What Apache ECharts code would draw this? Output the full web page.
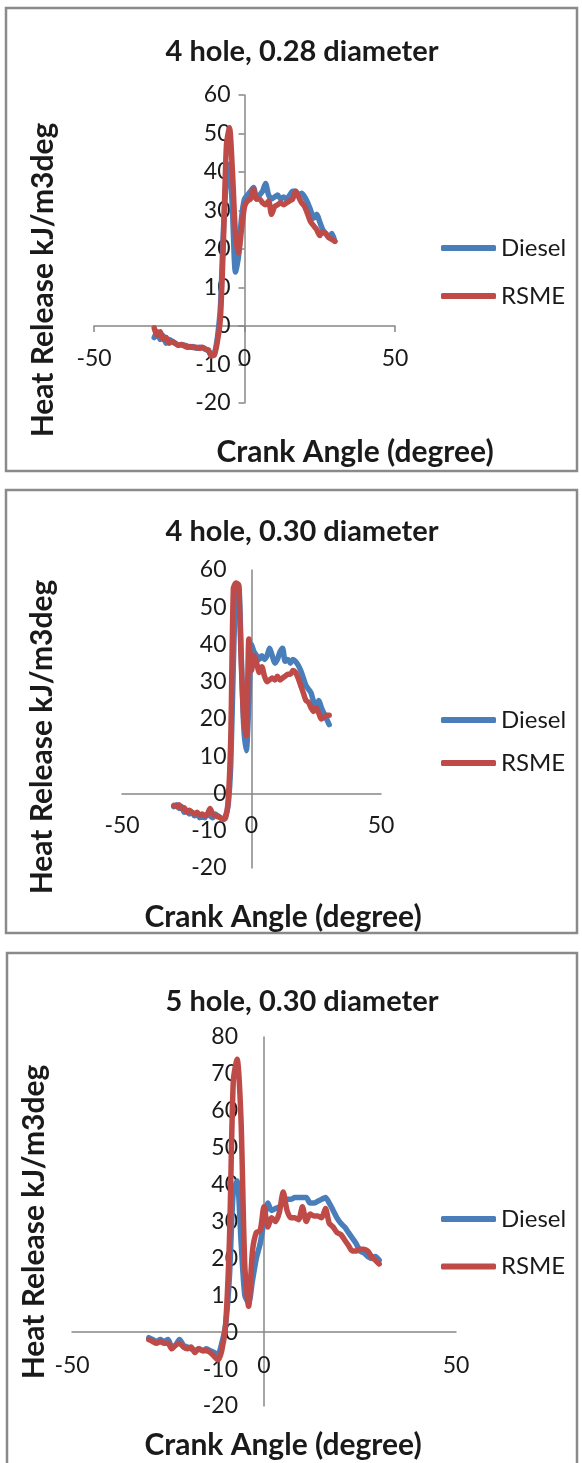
<!DOCTYPE html>
<html><head><meta charset="utf-8">
<script src="https://cdn.jsdelivr.net/npm/echarts@6/dist/echarts.min.js"></script>
<style>html,body{margin:0;padding:0;background:#fff}#c{width:582px;height:1463px}</style>
</head><body><div id="c"></div>
<script>
// Crank angle (degree)
const crankAngle = [-30,-29,-28,-27,-26,-25,-24,-23,-22,-21,-20,-19,-18,-17,-16,-15,-14,-13,-12,-11,-10,-9,-8,-7,-6,-5,-4,-3,-2,-1,0,1,2,3,4,5,6,7,8,9,10,11,12,13,14,15,16,17,18,19,20,21,22,23,24,25,26,27,28,29,30];

// Panel 1: 4 hole, 0.28 diameter
const diesel1 = [-3,-1.5,-3.5,-2.5,-4.5,-3.5,-4,-4.5,-5,-4.8,-5,-5.2,-5.5,-5.3,-5.8,-5.5,-5.6,-6,-6.5,-7.5,-7,-3,5,25,38,42,30,14,18,28,33,34,35,36,33,34,35,37,34,33,33.5,34,33,33.5,33,34,35,35,34,34.5,33.5,32,30,28,29,27,25,24,23,24,22];
const rsme1   = [-0.5,-2.5,-1.5,-3.5,-3,-4.5,-4,-4.5,-5,-4.8,-5.2,-5.5,-5.3,-5.6,-5.5,-5.8,-5.5,-6,-6.2,-7.8,-7.5,-4,2,22,47,51.5,40,24,19,25,31,32.5,33,35.5,33,33,32,31.5,32.5,29,31,31.5,32,31.5,32,32.5,33,35,33.5,32,31,29,27,26,25,23.5,24.5,24,23,22.5,22];

// Panel 2: 4 hole, 0.30 diameter
const diesel2 = [-3.5,-3,-4,-3.5,-5,-4.5,-5.5,-5,-6,-5.5,-6.5,-6,-6.5,-5.5,-6,-6.5,-5.5,-6,-6.5,-7,-6,-3,8,35,55,56,38,18,11.5,25,40,38,37,36,37,36,37,39,37,35,36,38,39,35.5,36,35,36,35.5,34.5,33,31,29,28,27,24.5,22.5,25,23,21.5,20,18.5];
const rsme2   = [-3.2,-3.5,-3,-4,-3.8,-5,-4.5,-5,-5.5,-5,-5.8,-5.5,-6,-5.5,-4,-5.5,-6,-6.2,-6.5,-7,-6.5,-2,15,55,56.5,56,36,20,15.5,41.5,33,37,35,32.5,34,31.5,30,30.5,31,30.5,31.5,30.5,31,31.5,32,32,33,32.5,31,29,27,25,24.5,23,22,23,21.5,20,20.5,21,21];

// Panel 3: 5 hole, 0.30 diameter
const diesel3 = [-1.5,-2,-2.5,-2,-2.5,-2,-4,-3.5,-2,-3.5,-4,-4.5,-5,-4.5,-5,-4.5,-5,-5.5,-6,-3,2,15,38,41,25,10,8,14,20,24,30,35,33,33.5,34,35,36,36,36.5,36.5,36.5,36.5,35,35,35.5,36,36.5,35,33,31,29.5,28.5,27,25.5,24,22,21.5,20.5,20,20.5,19.5];
const rsme3   = [-2,-2.5,-3,-2.5,-3,-3,-4.5,-3.5,-3,-4,-4.5,-4,-5.5,-4.5,-5,-5,-5.5,-6.5,-7.5,-5,2,25,68,74,58,18,7,22,27,27.5,34,28.5,31,30,32.5,38,33,31,31,30.5,34,30,32,31.5,31.5,31,33.5,29.5,28.5,27,26.5,25,23.5,22,22,22.5,22.5,22,20.5,19.5,18.5];

const seriesNames = ['Diesel', 'RSME'];
const seriesColors = ['#4a7ebb', '#be4b48'];
const panelTitles = ['4 hole, 0.28 diameter', '4 hole, 0.30 diameter', '5 hole, 0.30 diameter'];
const xAxisTitle = 'Crank Angle (degree)';
const yAxisTitle = 'Heat Release kJ/m3deg';
const xRange = [-50, 50];
const xStep = 50;
const yMins = [-20, -20, -20];
const yMaxs = [60, 60, 80];
const yStep = 10;

const panelData = [[diesel1, rsme1], [diesel2, rsme2], [diesel3, rsme3]];

// layout (positions / sizes only)
const layout = [
  {grid:{left:94, top:95, width:301, height:308}, ticks:true, xMargin:21, yMargin:14,
   titleY:32, xName:[355,452], yName:[43,280], legendTop:231, legendGap:24, box:[6,8,571,463]},
  {grid:{left:122, top:570, width:259, height:298}, ticks:false, xMargin:21, yMargin:25,
   titleY:512, xName:[283,917], yName:[42,737], legendTop:703, legendGap:19, box:[6,490,571,443]},
  {grid:{left:72, top:1037, width:384, height:369}, ticks:false, xMargin:22, yMargin:26,
   titleY:982, xName:[283,1445], yName:[34,1222], legendTop:1202, legendGap:23.5, box:[7,953,570,520]}
];

const FONT = 'Lato';
const TXT = '#1a1a1a';
const AXC = '#878787';

const option = {
  animation: false,
  backgroundColor: '#fff',
  title: [], grid: [], xAxis: [], yAxis: [], series: [], legend: [], graphic: []
};

layout.forEach((L, i) => {
  // put each axis where the other axis is zero (axes cross at the origin)
  const yOff = -(0 - xRange[0]) / (xRange[1] - xRange[0]) * L.grid.width;
  const xOff = -(0 - yMins[i]) / (yMaxs[i] - yMins[i]) * L.grid.height;
  option.title.push({
    text: panelTitles[i], left: 297, top: L.titleY, textAlign: 'center',
    textStyle: {fontFamily: FONT, fontWeight: 'bold', fontSize: 29, color: TXT}
  });
  option.grid.push(Object.assign({containLabel: false}, L.grid));
  option.xAxis.push({
    type: 'value', gridIndex: i, min: xRange[0], max: xRange[1], interval: xStep,
    position: 'bottom', offset: xOff,
    splitLine: {show: false},
    axisLine: {show: true, onZero: false, lineStyle: {color: AXC, width: 1.5}},
    axisTick: {show: L.ticks, inside: false, length: 6, lineStyle: {color: AXC, width: 1.5}},
    axisLabel: {margin: L.xMargin, fontFamily: FONT, fontSize: 23, color: TXT, showMinLabel: true, showMaxLabel: true}
  });
  option.yAxis.push({
    type: 'value', gridIndex: i, min: yMins[i], max: yMaxs[i], interval: yStep,
    position: 'left', offset: yOff,
    splitLine: {show: false},
    axisLine: {show: true, onZero: false, lineStyle: {color: AXC, width: 1.5}},
    axisTick: {show: L.ticks, inside: false, length: 6, lineStyle: {color: AXC, width: 1.5}},
    axisLabel: {margin: L.yMargin, fontFamily: FONT, fontSize: 23, color: TXT, showMinLabel: true, showMaxLabel: true}
  });
  panelData[i].forEach((vals, k) => {
    option.series.push({
      name: seriesNames[k], type: 'line', xAxisIndex: i, yAxisIndex: i,
      data: crankAngle.map((a, j) => [a, vals[j]]),
      symbol: 'none', showSymbol: false, smooth: 0.25,
      lineStyle: {width: 5.5, color: seriesColors[k], cap: 'round', join: 'round'},
      itemStyle: {color: seriesColors[k]},
      z: 2 + k
    });
  });
  option.legend.push({
    data: seriesNames.map(n => ({name: n, icon: 'roundRect'})),
    orient: 'vertical', left: 436, top: L.legendTop,
    itemWidth: 55, itemHeight: 6, itemGap: L.legendGap, selectedMode: false,
    textStyle: {fontFamily: FONT, fontSize: 24, color: TXT}
  });
  option.graphic.push({
    type: 'rect', silent: true, z: -1,
    shape: {x: L.box[0], y: L.box[1], width: L.box[2], height: L.box[3]},
    style: {fill: 'none', stroke: '#8a8a8a', lineWidth: 2.5}
  });
  option.graphic.push({
    type: 'text', silent: true, x: L.xName[0], y: L.xName[1],
    style: {text: xAxisTitle, fontFamily: FONT, fontWeight: 'bold', fontSize: 30, fill: TXT,
            align: 'center', verticalAlign: 'middle'}
  });
  option.graphic.push({
    type: 'text', silent: true, x: L.yName[0], y: L.yName[1], rotation: Math.PI / 2,
    style: {text: yAxisTitle, fontFamily: FONT, fontWeight: 'bold', fontSize: 30, fill: TXT,
            align: 'center', verticalAlign: 'middle'}
  });
});

const chart = echarts.init(document.getElementById('c'), null, {renderer: 'canvas'});
chart.setOption(option);
</script>
</body></html>
